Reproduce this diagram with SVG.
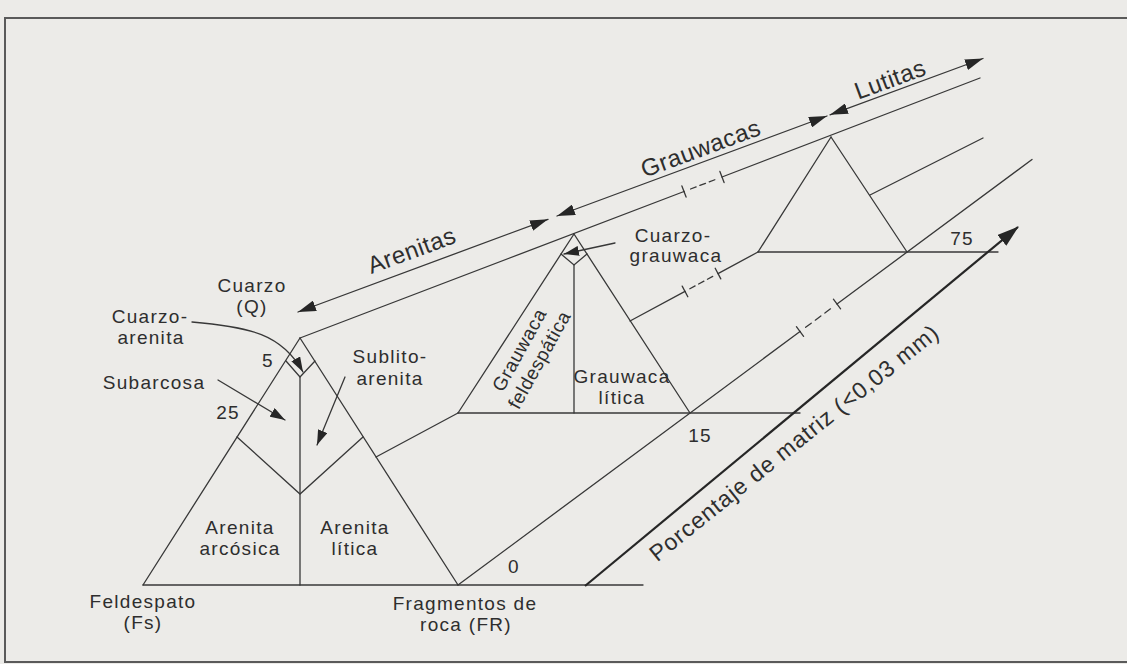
<svg xmlns="http://www.w3.org/2000/svg" width="1127" height="664" viewBox="0 0 1127 664">
<style>
.ln{stroke:#383838;stroke-width:1.3;fill:none;stroke-linecap:round}
.fr{stroke:#5a5a5a;stroke-width:2;fill:none}
.t{font-family:"Liberation Sans",Arial,sans-serif;font-size:19px;letter-spacing:1.3px;fill:#2e2e2e;text-anchor:middle}
.b{font-family:"Liberation Sans",Arial,sans-serif;font-size:24px;letter-spacing:0.5px;fill:#2e2e2e;text-anchor:middle}
.p{font-family:"Liberation Sans",Arial,sans-serif;font-size:23px;letter-spacing:0.9px;fill:#2e2e2e;text-anchor:middle}
.r{font-family:"Liberation Sans",Arial,sans-serif;font-size:19px;letter-spacing:0.6px;fill:#2e2e2e;text-anchor:middle}
</style>
<defs>
<marker id="ah" viewBox="0 0 18 11" refX="18" refY="5.5" markerWidth="18" markerHeight="11" markerUnits="userSpaceOnUse" orient="auto-start-reverse"><path d="M0,0 L18,5.5 L0,11 z" fill="#262626"/></marker>
<marker id="ahs" viewBox="0 0 15 10" refX="15" refY="5" markerWidth="15" markerHeight="10" markerUnits="userSpaceOnUse" orient="auto"><path d="M0,0 L15,5 L0,10 z" fill="#262626"/></marker>
<marker id="ahx" viewBox="0 0 22 14" refX="21" refY="7" markerWidth="22" markerHeight="14" markerUnits="userSpaceOnUse" orient="auto"><path d="M0,0 L22,7 L0,14 z" fill="#262626"/></marker>
</defs>
<rect x="0" y="0" width="1127" height="664" fill="#ecebe8"/>
<g id="frame">
<path class="fr" d="M1127,18 L5,18 L5,662 L1127,662"/>
</g>
<g id="triangle-1">
<line class="ln" x1="300" y1="338" x2="143" y2="585"/>
<line class="ln" x1="300" y1="338" x2="458" y2="585"/>
<line class="ln" x1="143" y1="585" x2="643" y2="585"/>
<line class="ln" x1="300" y1="377" x2="300" y2="585"/>
<polyline class="ln" points="286,361 300,377 315,361"/>
<polyline class="ln" points="237,437 300,494 363,437"/>
</g>
<g id="triangle-2">
<line class="ln" x1="574" y1="234" x2="458" y2="413"/>
<line class="ln" x1="574" y1="234" x2="690" y2="413"/>
<line class="ln" x1="458" y1="413" x2="800" y2="413"/>
<line class="ln" x1="574" y1="265" x2="574" y2="413"/>
<polyline class="ln" points="561,254 574,265 587,254"/>
</g>
<g id="triangle-3">
<line class="ln" x1="831" y1="137" x2="758" y2="252"/>
<line class="ln" x1="831" y1="137" x2="907" y2="252"/>
<line class="ln" x1="758" y1="252" x2="998" y2="252"/>
</g>
<g id="connectors">
<line class="ln" x1="300" y1="338" x2="684" y2="191.5"/>
<line class="ln" x1="684" y1="191.5" x2="722" y2="177" stroke-dasharray="0 7 6 4 6 4 6 100"/>
<line class="ln" x1="722" y1="177" x2="980" y2="78"/>
<line class="ln" x1="681.9" y1="185.9" x2="686.1" y2="197.1"/>
<line class="ln" x1="719.9" y1="171.4" x2="724.1" y2="182.6"/>
<line class="ln" x1="376" y1="457" x2="458" y2="413"/>
<line class="ln" x1="630" y1="321" x2="685" y2="291.4"/>
<line class="ln" x1="685" y1="291.4" x2="718" y2="273.6" stroke-dasharray="0 5.5 6 4 6 4 6 100"/>
<line class="ln" x1="718" y1="273.6" x2="758" y2="252"/>
<line class="ln" x1="682.2" y1="286.1" x2="687.8" y2="296.7"/>
<line class="ln" x1="715.2" y1="268.3" x2="720.8" y2="278.9"/>
<line class="ln" x1="870" y1="195" x2="983" y2="138"/>
<line class="ln" x1="458" y1="585" x2="800" y2="331.5"/>
<line class="ln" x1="800" y1="331.5" x2="837" y2="304" stroke-dasharray="0 7 7 5 7 5 7 100"/>
<line class="ln" x1="837" y1="304" x2="1032" y2="159.5"/>
<line class="ln" x1="796.4" y1="326.7" x2="803.6" y2="336.3"/>
<line class="ln" x1="833.4" y1="299.2" x2="840.6" y2="308.8"/>
<line x1="585" y1="586" x2="1018" y2="227" stroke="#262626" stroke-width="2.2" marker-end="url(#ahx)"/>
<line class="ln" x1="298" y1="312" x2="548" y2="219.3" marker-start="url(#ah)" marker-end="url(#ah)"/>
<line class="ln" x1="557" y1="216" x2="827" y2="116" marker-start="url(#ah)" marker-end="url(#ah)"/>
<line class="ln" x1="830" y1="114.8" x2="983" y2="58.5" marker-start="url(#ah)" marker-end="url(#ah)"/>
<path class="ln" d="M192,322 C250,327 282,334 303,372" marker-end="url(#ahs)"/>
<line class="ln" x1="218" y1="380" x2="285" y2="420" marker-end="url(#ahs)"/>
<line class="ln" x1="345" y1="377" x2="317" y2="445" marker-end="url(#ahs)"/>
<line class="ln" x1="615" y1="243" x2="564" y2="254" marker-end="url(#ahs)"/>
</g>
<g id="labels">
<text class="t" x="252" y="292">Cuarzo</text>
<text class="t" x="252" y="313">(Q)</text>
<text class="t" x="150" y="323">Cuarzo-</text>
<text class="t" x="151" y="344">arenita</text>
<text class="t" x="268" y="367">5</text>
<text class="t" x="154" y="389">Subarcosa</text>
<text class="t" x="228" y="419">25</text>
<text class="t" x="390" y="363">Sublito-</text>
<text class="t" x="390" y="385">arenita</text>
<text class="t" x="240" y="534">Arenita</text>
<text class="t" x="240" y="555">arcósica</text>
<text class="t" x="355" y="534">Arenita</text>
<text class="t" x="355" y="555">lítica</text>
<text class="t" x="143" y="608">Feldespato</text>
<text class="t" x="143" y="629">(Fs)</text>
<text class="t" x="465" y="610">Fragmentos de</text>
<text class="t" x="466" y="631">roca (FR)</text>
<text class="t" x="514" y="573">0</text>
<text class="t" x="700" y="442">15</text>
<text class="t" x="962" y="245">75</text>
<text class="t" x="673" y="242">Cuarzo-</text>
<text class="t" x="676" y="262">grauwaca</text>
<text class="t" x="622" y="383">Grauwaca</text>
<text class="t" x="622" y="404">lítica</text>
<text class="r" transform="translate(525,353) rotate(-61)">Grauwaca</text>
<text class="r" transform="translate(545,363) rotate(-61)">feldespática</text>
<text class="b" transform="translate(414.5,258) rotate(-20.3)">Arenitas</text>
<text class="b" transform="translate(703.5,156) rotate(-20.3)">Grauwacas</text>
<text class="b" transform="translate(893,87) rotate(-20.3)">Lutitas</text>
<text class="p" transform="translate(799,449) rotate(-38.7)">Porcentaje de matriz (&lt;0,03 mm)</text>
</g>
</svg>
